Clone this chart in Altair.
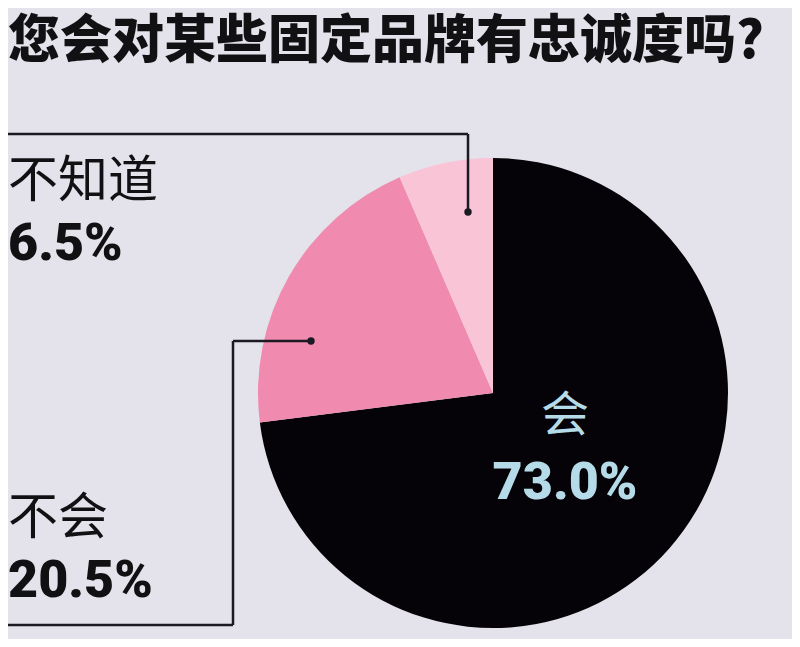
import altair as alt
import pandas as pd

# ---- data ----
categories = ["会", "不会", "不知道"]
values = [73.0, 20.5, 6.5]
colors = ["#050307", "#f08aae", "#f8c4d6"]
title_text = "您会对某些固定品牌有忠诚度吗?"

BG = "#e4e2ea"
CJK = "Noto Sans CJK SC"
NUM = "Roboto"

df = pd.DataFrame({"cat": categories, "val": values, "ord": list(range(len(categories)))})
one = pd.DataFrame({"d": [0]})

pie = alt.Chart(df).mark_arc(radius=235, stroke=None).encode(
    theta=alt.Theta("val:Q", stack=True),
    color=alt.Color("cat:N", scale=alt.Scale(domain=categories, range=colors), legend=None),
    order=alt.Order("ord:Q"),
    x=alt.value(485),
    y=alt.value(385),
)

def txt(s, x, y, size, color="#111114", weight="normal", font=CJK, align="left"):
    return alt.Chart(one).mark_text(
        text=s, align=align, baseline="middle", fontSize=size, fontWeight=weight,
        font=font, color=color,
    ).encode(x=alt.value(x), y=alt.value(y))

def hrule(x1, x2, y):
    return alt.Chart(one).mark_rule(color="#1b1a22", strokeWidth=2.5).encode(
        x=alt.value(x1), x2=alt.value(x2), y=alt.value(y))

def vrule(x, y1, y2):
    return alt.Chart(one).mark_rule(color="#1b1a22", strokeWidth=2.5).encode(
        x=alt.value(x), y=alt.value(y1), y2=alt.value(y2))

def dot(x, y):
    return alt.Chart(one).mark_point(filled=True, size=55, color="#1b1a22", opacity=1).encode(
        x=alt.value(x), y=alt.value(y))

pct = [f"{v:.1f}%" for v in values]

layers = [
    pie,
    txt(title_text, 0, 34, 52, weight=900),
    # 不知道
    hrule(-4, 460, 126), vrule(460, 126, 204), dot(460, 204),
    txt(categories[2], 0, 174, 50),
    txt(pct[2], 0, 236, 52, weight=900, font=NUM),
    # 不会
    hrule(225, 303, 333), vrule(225, 333, 617), hrule(-4, 225, 617), dot(303, 333),
    txt(categories[1], 0, 511, 50),
    txt(pct[1], 0, 573, 52, weight=900, font=NUM),
    # 会
    txt(categories[0], 557, 409, 48, color="#b6dbe8", align="center"),
    txt(pct[0], 557, 475, 52, color="#b6dbe8", weight=900, font=NUM, align="center"),
]

chart = alt.layer(*layers).properties(
    width=784, height=631, padding=0, autosize=alt.AutoSizeParams(type="none"),
    background=BG,
).configure_view(stroke=None)

chart.save("out.html", embed_options={"renderer": "svg", "actions": False})
